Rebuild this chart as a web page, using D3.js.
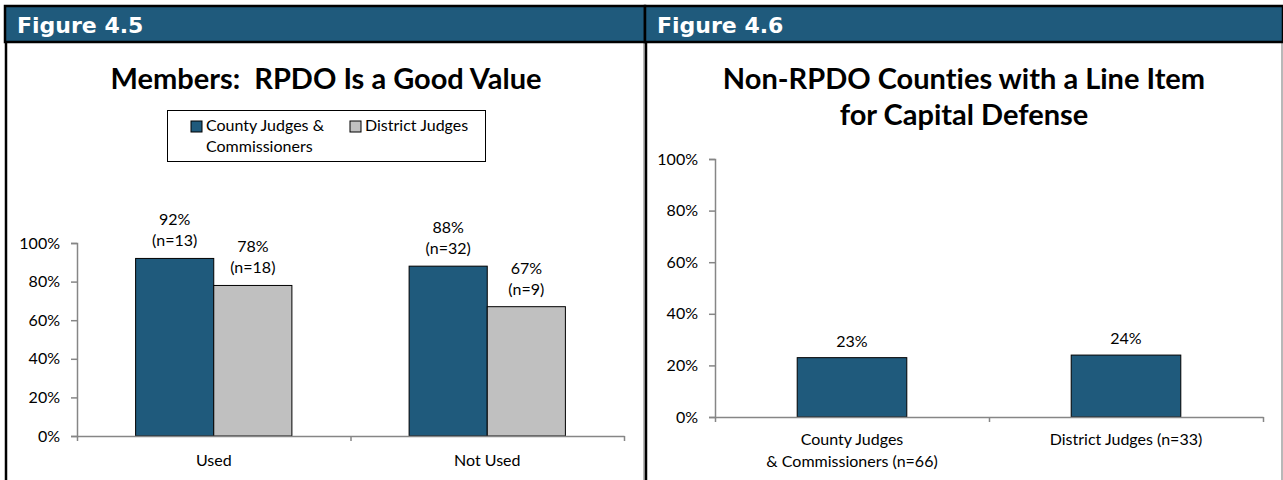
<!DOCTYPE html>
<html>
<head>
<meta charset="utf-8">
<script src="https://cdn.jsdelivr.net/npm/d3@7"></script>
<style>
  body { margin: 0; background: #fff; }
  svg { display: block; }
  text { font-family: Lato, "Open Sans", sans-serif; fill: #000; font-variant-ligatures: none; }
</style>
</head>
<body>
<svg id="drawing_region"></svg>
<script>
// Figure 4.5 data
const fig45Categories = ["Used", "Not Used"];
const fig45Series = ["County Judges & Commissioners", "District Judges"];
const fig45SeriesLines = [["County Judges &", "Commissioners"], ["District Judges"]];
const fig45Values = [[92, 78], [88, 67]];   // [category][series]
const fig45N = [[13, 18], [32, 9]];

// Figure 4.6 data
const fig46Categories = ["County Judges & Commissioners (n=66)", "District Judges (n=33)"];
const fig46CategoryLines = [["County Judges", "& Commissioners (n=66)"], ["District Judges (n=33)"]];
const fig46Values = [23, 24];

const yTicks = [0, 20, 40, 60, 80, 100];

const BLUE = "#1f5a7c";
const GREY = "#c0c0c0";
const AXIS = "#868686";
const FS = 16;

const svg = d3.select("#drawing_region")
    .attr("width", 1283)
    .attr("height", 480);

// panel frames
function panel(x0, x1, label) {
    const g = svg.append("g");
    g.append("rect").attr("x", x0).attr("y", 42).attr("width", x1 - x0).attr("height", 440)
        .attr("fill", "#fff");
    g.append("line").attr("x1", x0 + 1).attr("x2", x0 + 1).attr("y1", 40).attr("y2", 480)
        .attr("stroke", "#000").attr("stroke-width", 2.5);
    g.append("line").attr("x1", x1 - 1).attr("x2", x1 - 1).attr("y1", 42).attr("y2", 480)
        .attr("stroke", "#a0a0a0").attr("stroke-width", 1.5);
    g.append("rect").attr("x", x0).attr("y", 6).attr("width", x1 - x0).attr("height", 36)
        .attr("fill", BLUE).attr("stroke", "#000").attr("stroke-width", 2.5);
    g.append("text").attr("x", x0 + 12).attr("y", 33)
        .style("font-family", "'DejaVu Sans', sans-serif")
        .attr("font-size", 22).attr("font-weight", "bold")
        .style("fill", "#fff")
        .text(label);
    return g;
}

panel(5, 645, "Figure 4.5");
panel(645, 1283, "Figure 4.6");

function yAxis(g, y, xPos) {
    const ax = g.append("g")
        .attr("transform", `translate(${xPos},0)`)
        .call(d3.axisLeft(y).tickValues(yTicks).tickFormat(d => d + "%").tickSize(6).tickPadding(11));
    ax.select(".domain").attr("stroke", AXIS).attr("stroke-width", 1.5);
    ax.selectAll(".tick line").attr("stroke", AXIS).attr("stroke-width", 1.5);
    ax.selectAll(".tick text").style("font-family", "Lato, sans-serif").attr("font-size", FS).style("fill", "#000");
}

function xAxis(g, range, yPos, n) {
    const bounds = d3.scaleLinear().domain([0, n]).range(range);
    const ax = g.append("g")
        .attr("transform", `translate(0,${yPos})`)
        .call(d3.axisBottom(bounds).tickValues(d3.range(n + 1)).tickFormat("").tickSize(5).tickSizeOuter(0));
    ax.select(".domain").attr("stroke", AXIS).attr("stroke-width", 1.5);
    ax.selectAll(".tick line").attr("stroke", AXIS).attr("stroke-width", 1.5);
}

// ---------- Figure 4.5 ----------
(function () {
    const g = svg.append("g");
    const x0 = d3.scaleBand().domain(fig45Categories).range([77, 624]).padding(0);
    const x1 = d3.scaleBand().domain(fig45Series).range([0, x0.bandwidth()])
        .paddingInner(0).paddingOuter(0.75);
    const y = d3.scaleLinear().domain([0, 100]).range([436, 243]);

    g.append("text").attr("x", 326).attr("y", 89).attr("text-anchor", "middle")
        .attr("font-size", 29).attr("font-weight", "bold")
        .text("Members:\u00a0\u00a0RPDO Is a Good Value");

    // legend
    const lg = g.append("g");
    lg.append("rect").attr("x", 167.5).attr("y", 110.5).attr("width", 318).attr("height", 51)
        .attr("fill", "#fff").attr("stroke", "#000").attr("stroke-width", 1);
    const legendX = [191, 350];
    fig45Series.forEach((s, i) => {
        lg.append("rect").attr("x", legendX[i]).attr("y", 121).attr("width", 11).attr("height", 11)
            .attr("fill", i === 0 ? BLUE : GREY).attr("stroke", "#000").attr("stroke-width", 1);
        fig45SeriesLines[i].forEach((line, j) => {
            lg.append("text").attr("x", legendX[i] + 15).attr("y", 131 + j * 21)
                .attr("font-size", FS).text(line);
        });
    });

    yAxis(g, y, 77);

    const groups = g.selectAll(".grp").data(fig45Categories).enter().append("g")
        .attr("transform", d => `translate(${x0(d)},0)`);

    groups.each(function (cat, ci) {
        const gg = d3.select(this);
        const rows = fig45Series.map((s, si) => ({ s, si, v: fig45Values[ci][si], n: fig45N[ci][si] }));
        gg.selectAll("rect").data(rows).enter().append("rect")
            .attr("x", d => x1(d.s))
            .attr("y", d => y(d.v))
            .attr("width", x1.bandwidth())
            .attr("height", d => y(0) - y(d.v))
            .attr("fill", d => d.si === 0 ? BLUE : GREY)
            .attr("stroke", "#000").attr("stroke-width", 1);
        gg.selectAll(".lab1").data(rows).enter().append("text")
            .attr("x", d => x1(d.s) + x1.bandwidth() / 2)
            .attr("y", d => y(d.v) - 33)
            .attr("text-anchor", "middle").attr("font-size", FS)
            .text(d => d.v + "%");
        gg.selectAll(".lab2").data(rows).enter().append("text")
            .attr("x", d => x1(d.s) + x1.bandwidth() / 2)
            .attr("y", d => y(d.v) - 12)
            .attr("text-anchor", "middle").attr("font-size", FS)
            .text(d => "(n=" + d.n + ")");
    });

    xAxis(g, x0.range(), 436, fig45Categories.length);

    g.selectAll(".xl").data(fig45Categories).enter().append("text")
        .attr("x", d => x0(d) + x0.bandwidth() / 2)
        .attr("y", 466)
        .attr("text-anchor", "middle").attr("font-size", FS)
        .text(d => d);
})();

// ---------- Figure 4.6 ----------
(function () {
    const g = svg.append("g");
    const x = d3.scaleBand().domain(fig46Categories).range([715, 1263])
        .paddingInner(0.6).paddingOuter(0.3);
    const y = d3.scaleLinear().domain([0, 100]).range([417, 159]);

    const title = g.append("text").attr("text-anchor", "middle")
        .attr("font-size", 29).attr("font-weight", "bold");
    title.append("tspan").attr("x", 964).attr("y", 89).text("Non-RPDO Counties with a Line Item");
    title.append("tspan").attr("x", 964).attr("y", 125).text("for Capital Defense");

    yAxis(g, y, 715);

    g.selectAll(".bar").data(fig46Categories).enter().append("rect")
        .attr("x", d => x(d))
        .attr("y", (d, i) => y(fig46Values[i]))
        .attr("width", x.bandwidth())
        .attr("height", (d, i) => y(0) - y(fig46Values[i]))
        .attr("fill", BLUE).attr("stroke", "#000").attr("stroke-width", 1);

    g.selectAll(".val").data(fig46Categories).enter().append("text")
        .attr("x", d => x(d) + x.bandwidth() / 2)
        .attr("y", (d, i) => y(fig46Values[i]) - 11)
        .attr("text-anchor", "middle").attr("font-size", FS)
        .text((d, i) => fig46Values[i] + "%");

    xAxis(g, x.range(), 417, fig46Categories.length);

    fig46Categories.forEach((c, i) => {
        fig46CategoryLines[i].forEach((line, j) => {
            g.append("text")
                .attr("x", x(c) + x.bandwidth() / 2)
                .attr("y", 445 + j * 22)
                .attr("text-anchor", "middle").attr("font-size", FS)
                .text(line);
        });
    });
})();
</script>
</body>
</html>
